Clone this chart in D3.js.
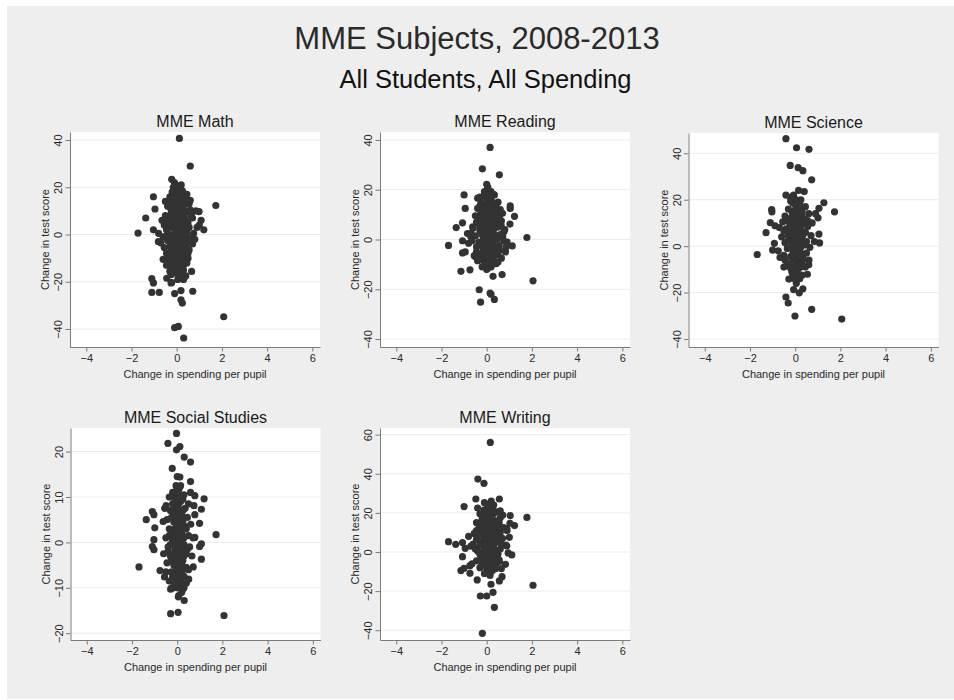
<!DOCTYPE html>
<html>
<head>
<meta charset="utf-8">
<script src="https://cdn.jsdelivr.net/npm/d3@7"></script>
<style>
  body { margin: 0; background: #fff; }
  text { font-family: "Liberation Sans", Arial, Helvetica, sans-serif; }
</style>
</head>
<body>
<div id="chart"></div>
<script>
// Data: [change in spending per pupil, change in test score]
var subjects = ["MME Math", "MME Reading", "MME Science", "MME Social Studies", "MME Writing"];
var xTicks = [-4, -2, 0, 2, 4, 6];

var mathPts = [
  [0.12,40.7],[0.6,29],[-0.22,23.4],[-1.03,16],[-0.96,10.8],[-1.37,7],[-1.71,0.6],[-1.03,2],
  [1.73,12.3],[0.99,9.7],[1.08,6],[1.2,2],[1.0,4],[-1.1,-18.7],[-1.03,-20.5],[-1.1,-24.5],
  [-0.77,-24.5],[0.71,-24],[0.19,-27.6],[0.25,-29],[-0.09,-25],[-0.22,-20.3],[-0.44,-18.5],
  [0.25,-17.7],[0.66,-15.6],[2.08,-34.8],[-0.09,-39.4],[0.07,-38.9],[0.31,-43.8],[0.19,-23.7],
  [-0.05,19],[0.05,17],[-0.3,16],[0.2,16.5],[0.35,15.5],[0.55,13],[-0.15,14],[0.1,13.5],
  [0.3,12],[-0.4,12],[-0.25,10.5],[0.0,11],[0.15,10],[0.45,9.5],[0.65,8],[-0.5,8],[-0.35,7],
  [-0.1,8.5],[0.2,7.5],[0.4,6],[0.7,7],[-0.55,4],[-0.2,5],[0.05,5.5],[0.3,4.5],[0.55,3],
  [-0.45,2],[-0.1,2.5],[0.15,1.5],[0.45,1],[0.75,0.5],[-0.3,0],[0,0.5],[0.25,-0.5],[0.6,-1.5],
  [-0.6,-1],[-0.4,-2.5],[-0.15,-2],[0.1,-3],[0.4,-3.5],[0.7,-4],[-0.7,-3.5],[-0.3,-5],[0,-5.5],
  [0.25,-6],[0.55,-6.5],[-0.45,-8],[-0.15,-7.5],[0.1,-8.5],[0.35,-9],[-0.35,-11],[-0.05,-10.5],
  [0.2,-11.5],[-0.45,-13],[-0.2,-13.5],[0.1,-14],[0.3,-13],[-0.3,-15.5],[0.0,-16.5],[0.15,-16],
  [0.4,-17.5],[-0.1,22],[0.1,20.5],[0.25,18.5],[-0.2,18],[0.45,17],[0.6,14.5],[-0.5,14],
  [0.85,10],[0.9,3],[-0.65,6],[-0.8,0.5],[-0.55,-5.5],[0.8,-2],[0.5,-10],[-0.6,-10.5],
  [0.05,-19],[-0.25,-20.5],[0.3,-19],[-0.81,-3],
  [0.0,15],[0.1,15.5],[-0.1,12.5],[0.2,13],[0.05,12],[-0.2,11.5],[0.3,10.5],[0.1,9.5],
  [-0.05,9.5],[0.25,8.5],[-0.25,8.5],[0.0,7],[0.15,6],[-0.15,6.5],[0.35,7],[0.05,4],[-0.3,3],
  [0.2,3],[0.4,2.5],[-0.05,1],[0.1,0],[0.3,1],[-0.2,-1],[0.05,-1.5],[0.2,-2],[0.35,-1],
  [-0.05,-3.5],[0.15,-4.5],[-0.2,-4],[0.4,-5],[0,-7],[0.2,-7.5],[-0.25,-6.5],[0.1,-9.5],
  [-0.1,-9],[0.25,-10],[-0.2,-11.5],[0,-12.5],[0.15,-13],[-0.1,-15],[0.3,-15],[0.45,-12],
  [-0.35,-9.5],[0.5,-8],[0.6,-3],[-0.45,-0.5],[0.5,5],[-0.4,5.5],[0.6,10.5],[-0.3,13.5],
  [0.4,14],[0.1,18],[-0.1,16.5],[0.3,17.5],[0.2,21],[-0.15,20],
  [-0.05,14],[0.2,11],[-0.15,10],[0.1,7.5],[-0.05,5.5],[0.25,5.5],[-0.15,3.5],[0.05,2],
  [0.2,0.5],[-0.1,-0.5],[0.3,-2.5],[-0.1,-5.5],[0.1,-6],[0.3,-7],[-0.05,-8],[0.15,-11],
  [-0.1,-12.5],[0.05,-14.5],[-0.25,-17],[0.35,-4]
];

var readingPts = [
  [0.15,37],[-0.19,28.4],[0.56,26],[0,22.2],[-1.0,17.9],[-0.95,12.5],[-1.07,6.7],[-1.35,4.8],
  [-1.69,-2.4],[-1.07,-0.5],[-1.07,-5.4],[-0.95,-5],[-1.14,-12.8],[-0.74,-12.2],[1.78,0.8],
  [1.04,13.5],[1.04,12.5],[1.23,9.3],[1.03,6.2],[1.13,-2.6],[0.83,-5],[2.05,-16.6],
  [-0.33,-20.2],[-0.27,-25.2],[0.15,-21.5],[0.19,-22],[0.34,-24.1],[0.28,-14.8],[0.68,-14.1],
  [0,-12.1],[0.42,-9.7],[-0.4,16.6],[-0.85,2.4],[-0.62,5.1],[-0.7,1.1],[-0.48,-7],[-0.4,-8.3],
  [0.71,1.1],[0.76,3.1],[0.64,5.8],[0.86,-3],[0.56,-4.3],[0.34,17.9],[0.19,19.2],[-0.1,19.2],
  [-0.33,9.2],
  [0.1,19],[0.3,18],[-0.1,17.5],[0.2,16],[-0.25,15],[0.05,14.5],[0.4,13.5],[0.6,12],[-0.4,12.5],
  [-0.1,12],[0.2,11],[0.45,10],[-0.5,9.5],[-0.2,9],[0.05,8.5],[0.3,8],[0.65,7.5],[-0.35,6.5],
  [-0.05,6],[0.2,5.5],[0.5,5],[-0.6,4.5],[-0.3,3.5],[0,3],[0.3,2.5],[0.6,2],[-0.5,1.5],
  [-0.15,1],[0.15,0.5],[0.45,0],[0.75,-0.5],[-0.65,-0.5],[-0.35,-1],[-0.05,-1.5],[0.25,-2],
  [0.55,-2.5],[-0.45,-3],[-0.15,-3.5],[0.1,-4.5],[0.35,-5],[-0.3,-6],[0,-6.5],[0.2,-7.5],
  [0.5,-6],[-0.4,-8.5],[-0.1,-9],[0.15,-10],[0.35,-9.5],[-0.2,-11],[0.05,-11.5],[0.3,-3],
  [0.05,21],[-0.3,17],[0.7,10.5],[0.8,4],[-0.7,2.5],[-0.8,-1.5],[0.9,-1],[-0.55,-6.5],
  [0.65,-7.5],[0.25,13],
  [0,17],[0.15,17],[0.05,15.5],[-0.15,14],[0.25,14.5],[0.1,13],[-0.05,10.5],[0.15,9.5],
  [0.35,11],[-0.25,11],[0,9],[0.2,7],[-0.15,7.5],[0.4,6.5],[0.05,6.5],[-0.3,5],[0.1,4],
  [0.3,4],[-0.1,4.5],[0.15,2],[-0.2,2],[0.4,1.5],[0.05,1],[-0.05,-0.5],[0.25,0],[0.1,-2],
  [-0.25,-2],[0.4,-3.5],[0,-4],[0.2,-5.5],[-0.15,-5],[0.05,-7.5],[-0.25,-7.5],[0.3,-7],
  [0.1,-9],[-0.05,-10.5],[0.2,-11],[0.5,-9],[-0.45,-5],[0.55,-4],[0.55,8.5],[-0.45,7],
  [-0.3,13.5],[0.5,15],
  [0.1,11.5],[-0.1,8],[0.15,5.5],[-0.05,2.5],[0.25,-1],[0,-2.5],[0.15,-6.5],[-0.1,-7],
  [0.3,10],[-0.2,12.5],[0.05,18]
];

var sciencePts = [
  [-0.41,46.3],[0.06,42.4],[0.61,41.7],[-0.22,34.8],[0.13,33.8],[0.34,32.5],[0.73,28.6],
  [0.4,23.5],[-0.41,22],[-0.07,22],[1.27,18.7],[1.74,14.8],[1.05,16.3],[-1.04,15.8],
  [-1.03,14.8],[-1.1,10.1],[-0.89,8.8],[-1.29,5.8],[-0.92,1.2],[-1.0,-1.7],[-1.68,-3.6],
  [-0.67,-4.9],[1.05,5.2],[1.08,1.4],[1.01,12.2],[-0.28,-14.2],[-0.41,-21.9],[-0.31,-24.5],
  [-0.07,-18.7],[0.34,-18.4],[0.18,-20.1],[0.54,-12.1],[0.73,-27.2],[-0.01,-30.1],[2.06,-31.4],
  [0.61,-6],[-0.34,-7.5],
  [0.05,20],[-0.1,18.5],[0.2,18],[0.45,17],[-0.3,16],[0.0,15.5],[0.3,15],[0.6,14],[-0.45,13],
  [-0.15,12.5],[0.1,12],[0.4,11.5],[-0.55,10.5],[-0.25,10],[0.05,9.5],[0.25,9],[0.55,8.5],
  [-0.4,7.5],[-0.1,7],[0.15,6.5],[0.45,6],[0.7,4.5],[-0.6,4],[-0.3,4.5],[0,4],[0.3,3.5],
  [-0.45,1.5],[-0.15,2],[0.1,1],[0.4,0.5],[0.65,-0.5],[-0.35,-1],[-0.05,-1.5],[0.2,-2],
  [0.5,-3],[-0.5,-4],[-0.2,-4.5],[0.05,-5],[0.35,-5.5],[-0.3,-8],[0,-8.5],[0.25,-9],
  [-0.15,-11],[0.1,-11.5],[0.3,-12.5],[-0.05,-14],[0.05,-16],[0.15,24],[-0.2,21],[0.75,10],
  [-0.7,8],[0.85,2],[-0.75,-2],[0.6,-8],[0.9,14],[-0.5,-9],
  [0,18],[0.15,16.5],[-0.15,15],[0.1,14],[0.3,13],[-0.05,13],[0.2,11],[-0.3,11.5],[0,11],
  [0.1,8],[-0.15,9],[0.35,10],[0.25,7],[-0.25,6],[0,5.5],[0.15,5],[0.35,5],[-0.1,3.5],
  [0.15,2.5],[-0.3,2.5],[0.3,2],[0,0.5],[0.25,-0.5],[-0.2,-0.5],[0.1,-3],[-0.1,-3],
  [0.35,-3.5],[0.15,-6],[-0.1,-6],[0.3,-7],[0.05,-7],[-0.2,-9.5],[0.15,-9.5],[0,-10.5],
  [0.2,-14],[-0.1,-12.5],[0.45,-9],[0.5,2],[0.55,11],[-0.5,6.5],[-0.45,-6],[0.25,20],[-0.2,19.5],
  [0.05,16.5],[-0.05,10],[0.1,6],[-0.15,5],[0.2,3.5],[0.05,-1],[-0.05,-4.5],[0.2,-4],
  [0.1,-8.5],[-0.1,-9.5]
];

var socialPts = [
  [-0.03,24],[-0.41,21.8],[0.12,21.1],[-0.03,20.4],[0.31,18.8],[0.59,17.7],[-0.22,16.3],
  [0.12,14.4],[0.59,13.4],[0.59,11],[0.78,10.3],[1.19,9.6],[1.07,7.3],[0.74,8.1],[0.78,6.1],
  [0.99,4.2],[-1.37,5],[-1.1,6.8],[-1.03,6.1],[-0.99,3.2],[-0.62,4.6],[-0.49,8.1],[-1.03,0.6],
  [-1.1,-0.9],[-1.03,-1.6],[-1.69,-5.4],[-0.76,-6.2],[-0.56,-7.6],[1.07,-0.3],[0.99,-0.9],
  [1.07,-3.7],[0.78,1.1],[1.72,1.7],[0.71,-5.4],[0.51,-8.1],[-0.29,-10.3],[0.26,-10.2],
  [0.07,-11.7],[0.31,-12.8],[-0.29,-15.7],[0.04,-15.4],[2.07,-16.1],
  [0,12],[-0.2,11],[0.1,10.5],[-0.35,10],[0.25,9.5],[-0.1,9],[0.05,8],[0.35,7.5],[-0.3,7],
  [-0.05,6.5],[0.2,6],[0.45,5.5],[-0.45,5],[-0.15,4.5],[0.1,4],[0.35,3.5],[-0.35,3],
  [-0.05,2.5],[0.2,2],[0.5,1.5],[-0.5,1],[-0.2,0.5],[0.05,0],[0.3,-0.5],[0.55,-1],[-0.4,-1],
  [-0.1,-1.5],[0.15,-2],[0.4,-2.5],[-0.3,-3],[0,-3.5],[0.25,-4],[-0.45,-4.5],[-0.15,-5],
  [0.1,-5.5],[0.4,-5.5],[-0.25,-6.5],[0.05,-7],[0.3,-7.5],[-0.35,-8.5],[-0.05,-8.5],[0.2,-9],
  [-0.15,-10],[0.1,-9.5],[0.6,4],[0.65,-3],[-0.6,-2.5],[0.5,8.5],[-0.55,7.5],[0.7,1],
  [0.15,12.5],[-0.25,-10],[0.3,-10],[0.0,14.5],[0.05,-12],[-0.5,-6.5],[0.5,-6],
  [0.05,11],[-0.1,10],[0.15,9],[0,9.5],[-0.2,8.5],[0.1,7],[-0.1,7.5],[0.25,7],[0,5.5],
  [0.15,5],[-0.25,5.5],[-0.05,4],[0.25,4.5],[0.05,3],[-0.2,2],[0.1,1.5],[0.3,1],[-0.05,1],
  [0.15,0.5],[-0.3,-0.5],[0,-1],[0.2,-1],[-0.15,-2.5],[0.1,-2.5],[0.3,-3],[-0.05,-4],
  [0.15,-3.5],[-0.25,-4],[0.05,-5],[0.25,-6],[-0.1,-6.5],[0.1,-7.5],[-0.2,-7.5],[0.15,-8.5],
  [0,-10],[0.4,-9],[-0.35,1.5],[0.45,-1.5],[0.4,3],[-0.4,-2],[0.3,10.5],
  [-0.05,12.5],[0.1,12],[-0.15,6],[0.05,6.5],[0.2,3.5],[-0.1,3],[0.05,1.5],[-0.15,-0.5],
  [0.1,-1],[-0.05,-2.5],[0.2,-5],[-0.1,-5],[0,-6],[0.05,-8.5],[-0.1,-9],[0.2,-11]
];

var writingPts = [
  [0.16,56],[-0.39,37.3],[-0.12,35.1],[-0.48,27.1],[0.56,27.1],[-1.0,23.2],[-0.1,25.2],
  [0.31,24],[1.04,18.6],[1.78,17.7],[1.23,13.5],[1.03,14.7],[0.71,18.9],[-1.69,5.3],
  [-1.37,3.9],[-1.07,4.8],[-0.95,1.9],[-1.07,-2.4],[-0.74,-7],[-1.0,-8.3],[-1.14,-9.5],
  [-0.74,-10.9],[-0.42,-14.3],[0.89,12.1],[0.89,3.1],[1.11,-1.5],[0.83,-6.3],[0.56,-4.9],
  [0.68,-12.6],[0.56,-14.8],[0.19,-16.5],[2.05,-17],[-0.28,-22.5],[0,-22.5],[0.28,-20.6],
  [0.34,-28.3],[-0.19,-41.6],
  [0.05,24],[0.25,22],[-0.1,21.5],[0.45,20.5],[-0.3,19.5],[0.15,19],[0.6,17.5],[-0.2,17],
  [0.05,16.5],[0.35,16],[-0.45,15],[-0.1,14.5],[0.2,14],[0.5,13.5],[0.75,12.5],[-0.35,12],
  [-0.05,11.5],[0.3,11],[0.6,10],[-0.55,9.5],[-0.2,9],[0.1,8.5],[0.4,8],[0.7,7],[-0.45,6.5],
  [-0.15,6],[0.15,5.5],[0.45,5],[-0.6,4],[-0.3,3.5],[0,3],[0.3,2.5],[0.6,1.5],[-0.4,0.5],
  [-0.1,0],[0.2,-0.5],[0.5,-1],[-0.25,-2.5],[0.05,-3],[0.35,-3.5],[-0.45,-4.5],[-0.15,-5],
  [0.15,-6],[0.4,-6.5],[-0.3,-8],[0,-8.5],[0.25,-9.5],[-0.1,-11],[0.15,-12],[0.9,11],
  [1.0,7.5],[-0.7,3],[-0.65,-6],[0.65,-8.5],[0.85,3.5],[0.2,26],[-0.4,22.5],[0.55,-4],
  [0.95,-0.5],[-0.8,8],
  [0.1,23],[0.15,21],[-0.05,19],[0.3,19.5],[0.1,17.5],[-0.15,15.5],[0.25,15.5],[0.4,14.5],
  [0.05,13],[-0.25,13.5],[0.2,12],[0.45,11.5],[-0.1,10],[0.15,10],[0.3,9],[-0.35,9],[0,7.5],
  [0.25,6.5],[-0.1,7],[0.5,7],[0.05,4.5],[-0.2,4.5],[0.3,4],[0.15,2],[-0.1,1.5],[0.4,0.5],
  [0.05,-1],[-0.3,-1],[0.25,-2],[0.15,-4],[-0.1,-3.5],[0.3,-6],[0,-6],[-0.2,-6.5],[0.1,-8],
  [0.4,-8.5],[0.05,-10.5],[0.55,15],[0.6,21],[-0.45,11],[0.65,4],[-0.5,1.5],
  [0.05,20],[-0.05,16],[0.15,15],[0.1,11],[-0.05,8.5],[0.2,8],[0.05,6],[-0.1,4],[0.2,4.5],
  [0.1,-2],[-0.05,-6.5],[0.2,-8.5]
];

var mathTicks = [-40, -20, 0, 20, 40];
var readingTicks = [-40, -20, 0, 20, 40];
var scienceTicks = [-40, -20, 0, 20, 40];
var socialTicks = [-20, -10, 0, 10, 20];
var writingTicks = [-40, -20, 0, 20, 40, 60];

// layout of the five sub-graphs (plot region boxes)
var plotW = 250;
var panels = [
  { title: subjects[0], pts: mathPts,    ticks: mathTicks,    yDom: [-47.6, 43.4],  left: 70,    top: 132, h: 215 },
  { title: subjects[1], pts: readingPts, ticks: readingTicks, yDom: [-43.2, 43.2],  left: 380,   top: 132, h: 215 },
  { title: subjects[2], pts: sciencePts, ticks: scienceTicks, yDom: [-43.45, 48.75], left: 688.5, top: 133, h: 214 },
  { title: subjects[3], pts: socialPts,  ticks: socialTicks,  yDom: [-21.5, 25.2],  left: 70.5,  top: 428, h: 212 },
  { title: subjects[4], pts: writingPts, ticks: writingTicks, yDom: [-45, 63.4],    left: 380,   top: 428, h: 212 }
];

var svg = d3.select("#chart").append("svg")
  .attr("width", 954)
  .attr("height", 700);

// grey graph region
svg.append("rect")
  .attr("x", 7).attr("y", 6)
  .attr("width", 947).attr("height", 693)
  .attr("fill", "#eeeeee");

// main titles
svg.append("text")
  .attr("x", 477).attr("y", 49)
  .attr("text-anchor", "middle")
  .attr("font-size", 31)
  .attr("fill", "#2a2a2a")
  .text("MME Subjects, 2008-2013");
svg.append("text")
  .attr("x", 485.5).attr("y", 88)
  .attr("text-anchor", "middle")
  .attr("font-size", 25.5)
  .attr("fill", "#111")
  .text("All Students, All Spending");

panels.forEach(function (p) {
  var g = svg.append("g")
    .attr("transform", "translate(" + p.left + "," + p.top + ")");

  var xscale = d3.scaleLinear().domain([-4.72, 6.34]).range([0, plotW]);
  var yscale = d3.scaleLinear().domain(p.yDom).range([p.h, 0]);

  // white plot region
  g.append("rect")
    .attr("width", plotW).attr("height", p.h)
    .attr("fill", "#fff");

  // horizontal grid lines
  g.selectAll(".grid")
    .data(p.ticks)
    .enter().append("line")
    .attr("x1", 0).attr("x2", plotW)
    .attr("y1", function (d) { return yscale(d); })
    .attr("y2", function (d) { return yscale(d); })
    .attr("stroke", "#ebebeb")
    .attr("stroke-width", 1);

  // points
  g.selectAll("circle")
    .data(p.pts)
    .enter().append("circle")
    .attr("cx", function (d) { return xscale(d[0]); })
    .attr("cy", function (d) { return yscale(d[1]); })
    .attr("r", 3.6)
    .attr("fill", "#333");

  // x axis
  var xAxis = g.append("g")
    .attr("transform", "translate(0," + p.h + ")")
    .call(d3.axisBottom(xscale).tickValues(xTicks).tickSize(4.5).tickSizeOuter(0).tickPadding(3));
  // y axis
  var yAxis = g.append("g")
    .call(d3.axisLeft(yscale).tickValues(p.ticks).tickSize(4.5).tickSizeOuter(0));

  [xAxis, yAxis].forEach(function (a) {
    a.selectAll("path, line").attr("stroke", "#7a7a7a");
    a.selectAll("text")
      .attr("font-family", "\"Liberation Sans\", Arial, sans-serif")
      .attr("font-size", 11)
      .attr("fill", "#2a2a2a");
  });

  // Stata style: vertical y tick labels
  yAxis.selectAll("text")
    .attr("transform", "rotate(-90)")
    .attr("x", 0)
    .attr("y", -8)
    .attr("dy", 0)
    .attr("text-anchor", "middle");

  // sub-graph title
  g.append("text")
    .attr("x", plotW / 2).attr("y", -5)
    .attr("text-anchor", "middle")
    .attr("font-size", 16)
    .attr("fill", "#1a1a1a")
    .text(p.title);

  // axis titles
  g.append("text")
    .attr("x", plotW / 2).attr("y", p.h + 31)
    .attr("text-anchor", "middle")
    .attr("font-size", 11)
    .attr("fill", "#2a2a2a")
    .text("Change in spending per pupil");
  g.append("text")
    .attr("transform", "rotate(-90)")
    .attr("x", -p.h / 2).attr("y", -21)
    .attr("text-anchor", "middle")
    .attr("font-size", 11)
    .attr("fill", "#2a2a2a")
    .text("Change in test score");
});
</script>
</body>
</html>
